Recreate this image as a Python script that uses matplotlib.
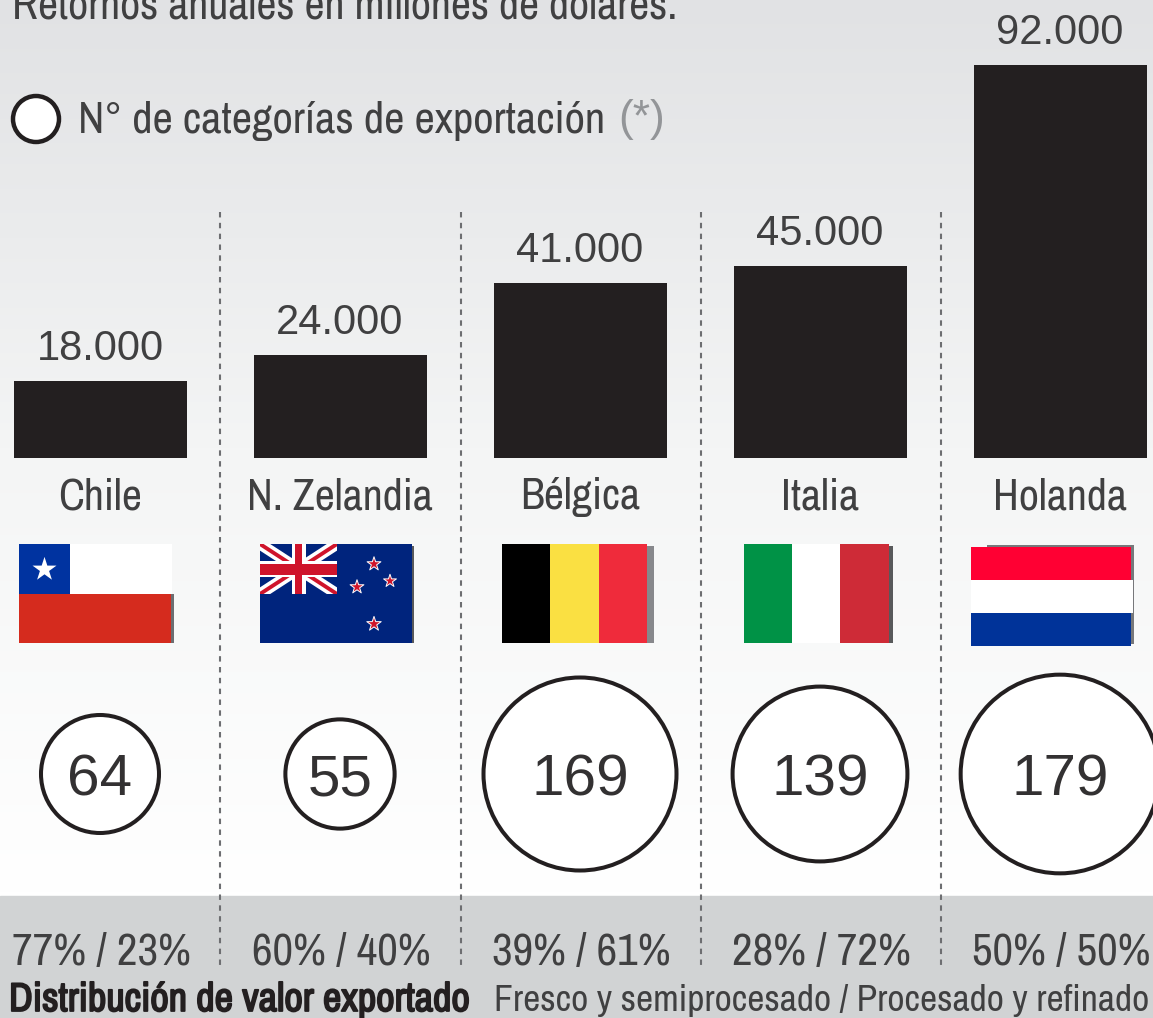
import numpy as np
import matplotlib
matplotlib.use('Agg')
import matplotlib.pyplot as plt
import matplotlib.patheffects as pe
from matplotlib.colors import LinearSegmentedColormap
from matplotlib.patches import Circle, Rectangle

countries = ["Chile", "N. Zelandia", "Bélgica", "Italia", "Holanda"]
returns = [18000, 24000, 41000, 45000, 92000]
return_labels = ["18.000", "24.000", "41.000", "45.000", "92.000"]
categories = [64, 55, 169, 139, 179]
shares = ["77% / 23%", "60% / 40%", "39% / 61%", "28% / 72%", "50% / 50%"]

DARK = "#231f20"
TEXT = "#404041"
NARROW = ["Archivo Narrow", "Liberation Sans"]
REG = "Liberation Sans"

W, H = 1153, 1018
fig = plt.figure(figsize=(W / 100, H / 100), dpi=100)

# whole figure in pixel coordinates
ax = fig.add_axes([0, 0, 1, 1])
ax.axis('off')

# background fade and bottom band
grad = np.linspace(0, 1, 256).reshape(-1, 1)
bg = LinearSegmentedColormap.from_list("bg", ["#e1e2e4", "#f4f5f5", "#ffffff"])
ax.imshow(grad, extent=[0, W, 896, 0], cmap=bg, aspect='auto', zorder=0)
ax.set_xlim(0, W)
ax.set_ylim(H, 0)
ax.add_patch(Rectangle((0, 896), W, H - 896, color="#d1d3d4", zorder=1))

centers = np.arange(5) * 240 + 100

# separators
for x in [220, 461, 701, 941]:
    ax.plot([x, x], [212, 968], color="#6d6e71", lw=1.5, linestyle=(0, (2.6, 2.6)), zorder=2)

# bars on their own value axis
ax_bar = fig.add_axes([0, 1 - 458 / H, 1, (458 - 65) / H])
ax_bar.set_xlim(0, W)
ax_bar.set_ylim(0, 92000)
ax_bar.axis('off')
ax_bar.bar(centers, returns, width=173, color=DARK, linewidth=0, clip_on=False)

for c, v, lab in zip(centers, returns, return_labels):
    ax_bar.annotate(lab, (c, v), xytext=(0, 15.2), textcoords='offset points', ha='center', va='baseline',
                    fontsize=30, family=REG, color=TEXT, annotation_clip=False)

# header
ax.text(12, 18, "Retornos anuales en millones de dólares.", fontsize=31.7, family=NARROW, color=TEXT,
        ha='left', va='baseline')
ax.add_patch(Circle((36, 119), 23, fc="white", ec=DARK, lw=3.2, zorder=3))
ax.text(78, 133, "N° de categorías de exportación", fontsize=32.1, family=NARROW, color=TEXT,
        ha='left', va='baseline')
ax.text(618, 131, "(*)", fontsize=32, family=REG, color="#939598", ha='left', va='baseline')

# country names
for c, name in zip(centers, countries):
    ax.text(c, 509, name, fontsize=31.5, family=NARROW, color=TEXT, ha='center', va='baseline')


def rect(x0, y0, x1, y1, color, z=3):
    ax.add_patch(Rectangle((x0, y0), x1 - x0, y1 - y0, fc=color, ec='none', zorder=z))


# flag shadows
for box, col in [((160, 594, 174, 643), "#6d6e71"), ((400, 546, 414, 643), "#58595b"),
                 ((640, 546, 654, 643), "#87888c"), ((880, 546, 893, 643), "#58595b"),
                 ((987, 545, 1134, 644), "#77787b")]:
    rect(*box, col, z=3)

# Chile
rect(19, 544, 172, 594, "white", 4)
rect(19, 544, 70, 594, "#0033a0", 4)
rect(19, 594, 171, 643, "#d52b1e", 4)
ax.scatter([44], [569], marker='*', s=330, c="white", linewidths=0, zorder=5)

# N. Zelandia
rect(260, 544, 412, 643, "#00247d", 4)
canton = Rectangle((260, 544), 77, 50, transform=ax.transData)
for ys in ([544, 594], [594, 544]):
    line, = ax.plot([260, 337], ys, color="white", lw=8, zorder=5, solid_capstyle='butt')
    line.set_clip_path(canton)
    line, = ax.plot([260, 337], ys, color="#cf142b", lw=2.8, zorder=6, solid_capstyle='butt')
    line.set_clip_path(canton)
rect(260, 561, 337, 577, "white", 7)
rect(292, 544, 306, 594, "white", 7)
rect(260, 564, 337, 575, "#cf142b", 8)
rect(295, 544, 302, 594, "#cf142b", 8)
star_x = [374, 390, 357, 374]
star_y = [564, 581, 587, 624]
ax.scatter(star_x, star_y, marker='*', s=[110, 95, 110, 120], c="#cf142b", edgecolors="white",
           linewidths=0.7, zorder=8)

# Belgica
rect(502, 544, 550, 643, "black", 4)
rect(550, 544, 599, 643, "#fae042", 4)
rect(599, 544, 647, 643, "#ef2b3b", 4)

# Italia
rect(744, 544, 792, 643, "#009246", 4)
rect(792, 544, 840, 643, "white", 4)
rect(840, 544, 889, 643, "#ce2b37", 4)

# Holanda
rect(971, 547, 1131, 580, "#ff0033", 4)
rect(971, 580, 1133, 613, "white", 4)
rect(971, 613, 1131, 646, "#003399", 4)

# proportional circles
for c, n in zip(centers, categories):
    ax.add_patch(Circle((c, 774), 7.5 * np.sqrt(n) - 1, fc="white", ec=DARK, lw=2.9, zorder=3))
    ax.text(c, 795, str(n), fontsize=42, family=REG, color="#333132", ha='center', va='baseline', zorder=4)

# bottom band text
for c, s in zip(centers, shares):
    ax.text(c + 1, 965, s, fontsize=32.5, family=NARROW, color=TEXT, ha='center', va='baseline', zorder=4)
ax.text(9, 1011, "Distribución de valor exportado", fontsize=29, family=NARROW, color=DARK,
        ha='left', va='baseline', zorder=4,
        path_effects=[pe.withStroke(linewidth=1.3, foreground=DARK)])
ax.text(494, 1011, "Fresco y semiprocesado / Procesado y refinado", fontsize=27, family=NARROW, color=TEXT,
        ha='left', va='baseline', zorder=4)

fig.savefig("out.png", dpi=100)
